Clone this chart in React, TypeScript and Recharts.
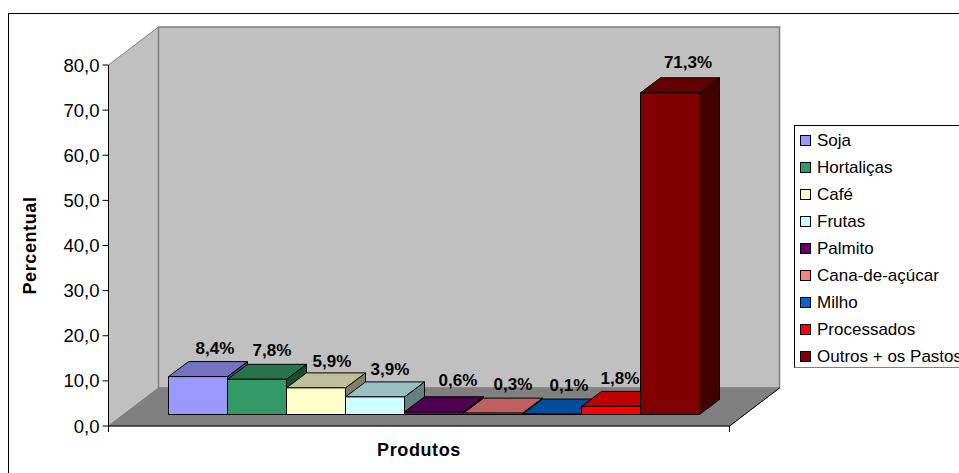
import React from 'react';
import { BarChart, Bar, XAxis, YAxis, Legend, Label, LabelList, usePlotArea } from 'recharts';

const GROUP = ['Produtos'];
const SERIES = ['Soja', 'Hortaliças', 'Café', 'Frutas', 'Palmito', 'Cana-de-açúcar', 'Milho', 'Processados', 'Outros + os Pastos'];
const VALUES = [8.4, 7.8, 5.9, 3.9, 0.6, 0.3, 0.1, 1.8, 71.3];
const FILLS = ['#9999ff', '#339966', '#ffffcc', '#ccffff', '#660066', '#ff8080', '#0066cc', '#ff0000', '#800000'];
const TOPS = ['#7373bf', '#26734d', '#bfbf99', '#99bfbf', '#4d004d', '#bf6060', '#004d99', '#bf0000', '#600000'];
const SIDES = ['#4d4d80', '#1a4d33', '#808066', '#668080', '#330033', '#804040', '#003366', '#800000', '#400000'];
const Y_TICKS = [0, 10, 20, 30, 40, 50, 60, 70, 80];

// hand placed value labels: shift from the front face centre, and rise above its top edge
const LABEL_DX = [17, 15, 16, 15, 24, 20, 17, 9, 18];
const LABEL_RISE = [23, 23, 20.5, 22, 26, 23, 23, 22, 25];

const FONT = '"Liberation Sans", Arial, sans-serif';

// depth of the whole box, and where the bars stand inside it
const WALL_DX = 50;
const WALL_DY = 38;
const BAR_DX = 15;
const BAR_DY = 11.5;
const BAR_DEPTH_X = 20;
const BAR_DEPTH_Y = 15;

const row: Record<string, string | number> = { name: GROUP[0] };
SERIES.forEach((s, i) => {
  row[s] = VALUES[i];
});
const data = [row];

const comma = (v: number, digits: number) => v.toFixed(digits).replace('.', ',');

// Back wall, side wall and floor, plus the two end ticks of the category axis
function Box() {
  const plot = usePlotArea();
  if (!plot) return null;
  const { x, y, width, height } = plot;
  const r = x + width;
  const b = y + height;
  const pts = (...p: number[][]) => p.map((q) => q.join(',')).join(' ');
  return (
    <g>
      <polygon
        points={pts([x, y], [x + WALL_DX, y - WALL_DY], [x + WALL_DX, b - WALL_DY], [x, b])}
        fill="#c0c0c0"
        stroke="#808080"
      />
      <polygon
        points={pts([x + WALL_DX, y - WALL_DY], [r + WALL_DX, y - WALL_DY], [r + WALL_DX, b - WALL_DY], [x + WALL_DX, b - WALL_DY])}
        fill="#c0c0c0"
        stroke="#808080"
        strokeWidth={1.5}
      />
      <polygon
        points={pts([x, b], [x + WALL_DX, b - WALL_DY], [r + WALL_DX, b - WALL_DY], [r, b])}
        fill="#808080"
        stroke="#808080"
      />
      <line x1={r + WALL_DX} y1={b - WALL_DY} x2={r} y2={b} stroke="#000" />
      <line x1={x} y1={b} x2={x} y2={b + 6} stroke="#000" />
      <line x1={r} y1={b} x2={r} y2={b + 6} stroke="#000" />
    </g>
  );
}

function makeBar(i: number) {
  return function Box3D(props: any) {
    const { x, y, width, height } = props;
    const l = x + BAR_DX;
    const t = y - BAR_DY;
    const w = width;
    const h = height;
    const dx = BAR_DEPTH_X;
    const dy = BAR_DEPTH_Y;
    return (
      <g stroke="#000" strokeWidth={1} strokeLinejoin="round">
        <polygon
          points={`${l + w},${t} ${l + w + dx},${t - dy} ${l + w + dx},${t + h - dy} ${l + w},${t + h}`}
          fill={SIDES[i]}
        />
        <polygon
          points={`${l},${t} ${l + dx},${t - dy} ${l + w + dx},${t - dy} ${l + w},${t}`}
          fill={TOPS[i]}
        />
        <rect x={l} y={t} width={w} height={h} fill={FILLS[i]} />
      </g>
    );
  };
}

function makeValueLabel(i: number) {
  return function ValueLabel(props: any) {
    const { x, y, width, value } = props;
    return (
      <text
        x={x + BAR_DX + width / 2 + LABEL_DX[i]}
        y={y - BAR_DY - LABEL_RISE[i]}
        textAnchor="middle"
        fontFamily={FONT}
        fontSize={17}
        fontWeight="bold"
        fill="#000"
      >
        {comma(value, 1)}%
      </text>
    );
  };
}

function LegendBox({ payload }: any) {
  return (
    <div style={{ width: 190, height: 243, boxSizing: 'border-box', border: '1px solid #000', borderRightColor: '#808080', borderBottomColor: '#808080', background: '#fff', paddingTop: 1 }}>
      {(payload || []).map((item: any) => (
        <div key={item.value} style={{ height: 27, display: 'flex', alignItems: 'center', whiteSpace: 'nowrap', fontFamily: FONT, fontSize: 17, color: '#000' }}>
          <span style={{ width: 9, height: 9, marginLeft: 5, marginRight: 6, border: '1px solid #000', background: item.color, flex: 'none' }} />
          {item.value}
        </div>
      ))}
    </div>
  );
}

export default function App() {
  return (
    <div style={{ position: 'fixed', left: 0, top: 0, width: 959, height: 473, overflow: 'hidden', background: '#fff' }}>
      <div style={{ position: 'absolute', left: 8, top: 13, width: 1100, height: 600, border: '1px solid #000', boxSizing: 'border-box' }} />
      <div style={{ position: 'absolute', left: 0, top: 0 }}>
        <BarChart
          width={1100}
          height={473}
          data={data}
          margin={{ top: 65, right: 180.5, bottom: 0, left: 0 }}
          barGap={0}
          barSize={59}
        >
          <Box />
          <XAxis
            dataKey="name"
            tick={false}
            tickLine={false}
            height={47}
            axisLine={{ stroke: '#000' }}
          >
            <Label value="Produtos" position="insideBottom" offset={17} fontFamily={FONT} fontSize={18} letterSpacing={0.6} fontWeight="bold" fill="#000" />
          </XAxis>
          <YAxis
            width={108.5}
            domain={[0, 80]}
            ticks={Y_TICKS}
            interval={0}
            tickSize={6}
            tickMargin={3}
            tickFormatter={(v: number) => comma(v, 1)}
            tick={{ fontFamily: FONT, fontSize: 18.5, fill: '#000' }}
            axisLine={{ stroke: '#000' }}
            tickLine={{ stroke: '#000' }}
          >
            <Label value="Percentual" angle={-90} position="insideLeft" textAnchor="middle" offset={30} fontFamily={FONT} fontSize={18} letterSpacing={0.6} fontWeight="bold" fill="#000" />
          </YAxis>
          <Legend
            layout="vertical"
            align="right"
            verticalAlign="top"
            itemSorter={null}
            content={<LegendBox />}
            wrapperStyle={{ left: 794, top: 125, width: 190, height: 243 }}
          />
          {SERIES.map((s, i) => (
            <Bar key={s} dataKey={s} fill={FILLS[i]} shape={makeBar(i)} isAnimationActive={false}>
              <LabelList dataKey={s} content={makeValueLabel(i)} />
            </Bar>
          ))}
        </BarChart>
      </div>
    </div>
  );
}
